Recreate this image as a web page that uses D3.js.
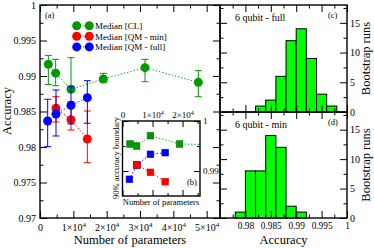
<!DOCTYPE html>
<html>
<head>
<meta charset="utf-8">
<script src="https://cdn.jsdelivr.net/npm/d3@7"></script>
<style>
  body { margin: 0; background: #fff; }
  svg { font-family: "Liberation Serif", "Times New Roman", serif; }
</style>
</head>
<body>
<svg width="374" height="248"></svg>
<script>
// ---- panel (a): median accuracy vs number of parameters ----
var clParams = [2500, 4700, 9300, 19000, 31500, 47500];
var clMedian = [0.99165, 0.9904, 0.98813, 0.98958, 0.99117, 0.98911];
var clLow    = [0.98880, 0.98863, 0.98779, 0.98911, 0.98920, 0.98708];
var clHigh   = [0.99290, 0.99235, 0.99258, 0.99038, 0.99235, 0.99075];

var qmMinParams = [4800, 9300, 14200];
var qmMinMedian = [0.98545, 0.98385, 0.98113];
var qmMinLow    = [0.98352, 0.98239, 0.97779];
var qmMinHigh   = [0.98708, 0.98638, 0.98507];

var qmFullParams = [2300, 4800, 9300, 14200];
var qmFullMedian = [0.98366, 0.98465, 0.98587, 0.98695];
var qmFullLow    = [0.98004, 0.98155, 0.98324, 0.98334];
var qmFullHigh   = [0.98672, 0.98803, 0.98849, 0.98934];

// ---- inset (b): 90% accuracy boundary ----
var clBoundary     = [0.9954, 0.9950, 0.99706, 0.9954, 0.99526, 0.9950];
var qmMinBoundary  = [0.9912, 0.98974, 0.98786];
var qmFullBoundary = [0.98834, 0.9912, 0.99334, 0.99366];

// ---- panels (c), (d): bootstrap histograms ----
var binWidth = 0.002;
var fullBins   = [0.982, 0.984, 0.986, 0.988, 0.990, 0.992, 0.994, 0.996];
var fullCounts = [1, 2, 6, 12, 14, 9, 3, 1];
var minBins    = [0.978, 0.980, 0.982, 0.984, 0.986, 0.988, 0.990];
var minCounts  = [1, 8, 8, 14, 12, 2, 1];

// tick values
var accTicks      = [0.97, 0.975, 0.98, 0.985, 0.99, 0.995, 1];
var accMinor      = [0.9725, 0.9775, 0.9825, 0.9875, 0.9925, 0.9975];
var paramTicks    = [0, 10000, 20000, 30000, 40000, 50000];
var paramMinor    = [5000, 15000, 25000, 35000, 45000];
var insetPTicks   = [0, 10000, 20000];
var insetPMinor   = [5000, 15000, 25000];
var insetYTicks   = [0.99, 1];
var insetYMinor   = [0.995];
var histXTicks    = [0.98, 0.985, 0.99, 0.995, 1];
var histXMinor    = [0.9775, 0.9825, 0.9875, 0.9925, 0.9975];
var histYTicks    = [0, 5, 10, 15];
var histYMinor    = [2.5, 7.5, 12.5, 17.5];

var green = "#009a00", red = "#ff0000", blue = "#0000ff";

var svg = d3.select("svg");

var xA = d3.scaleLinear().domain([0, 54000]).range([40, 220]);
var yA = d3.scaleLinear().domain([0.97, 1]).range([218, 5]);

var xI = d3.scaleLinear().domain([0, 25800]).range([122.5, 200]);
var yI = d3.scaleLinear().domain([0.985, 1]).range([196, 121]);

var xH = d3.scaleLinear().domain([0.975, 1]).range([220, 347]);
var yC = d3.scaleLinear().domain([0, 18]).range([112, 5]);
var yD = d3.scaleLinear().domain([0, 18]).range([218, 112]);

// draws an inward-ticked axis, returns the major group
function addAxis(orient, scale, pos, major, minor, fmt, opts) {
  opts = opts || {};
  let mk = {bottom: d3.axisBottom, top: d3.axisTop, left: d3.axisLeft, right: d3.axisRight}[orient];
  let horiz = (orient == "bottom" || orient == "top");
  let tr = horiz ? "translate(0," + pos + ")" : "translate(" + pos + ",0)";
  let big = opts.big || 7, small = opts.small || 3.5;

  let gm = svg.append("g").attr("transform", tr)
    .call(mk(scale).tickValues(minor).tickSize(-small).tickFormat(""));
  gm.select(".domain").remove();

  let g = svg.append("g").attr("transform", tr)
    .call(mk(scale).tickValues(major).tickSize(-big)
      .tickPadding(opts.pad || 4).tickFormat(fmt || ""));
  g.select(".domain").remove();
  g.attr("font-family", null).attr("font-size", opts.fs || 10);
  svg.selectAll("g.tick line").attr("stroke-width", 1);
  return g;
}

// "n×10^4" labels
function sciLabels(g, sup) {
  g.selectAll("text").each(function(d) {
    if (d === 0) return;
    let t = d3.select(this).text("");
    t.append("tspan").text((d / 10000) + "\u00d710");
    t.append("tspan").attr("font-size", sup).attr("dy", "-0.5em").text("4");
  });
}

function frame(x0, y0, x1, y1) {
  svg.append("rect")
    .attr("x", x0).attr("y", y0)
    .attr("width", x1 - x0).attr("height", y1 - y0)
    .attr("fill", "none").attr("stroke", "black").attr("stroke-width", 1.4);
}

// ================= panel (a) =================
addAxis("left", yA, 40, accTicks, accMinor, String, {pad: 4});
addAxis("right", yA, 220, accTicks, accMinor, "");
addAxis("top", xA, 5, paramTicks, paramMinor, "");
var xAxisA = addAxis("bottom", xA, 218, paramTicks, paramMinor, String, {pad: 5.5});
sciLabels(xAxisA, 7);

function series(params, med, lo, hi, color) {
  let g = svg.append("g");
  g.selectAll("line.err").data(params).enter().append("line")
    .attr("x1", (d) => xA(d)).attr("x2", (d) => xA(d))
    .attr("y1", (d, i) => yA(lo[i])).attr("y2", (d, i) => yA(hi[i]))
    .attr("stroke", color).attr("stroke-width", 1);
  [lo, hi].forEach(function(arr) {
    g.selectAll(null).data(params).enter().append("line")
      .attr("x1", (d) => xA(d) - 3.5).attr("x2", (d) => xA(d) + 3.5)
      .attr("y1", (d, i) => yA(arr[i])).attr("y2", (d, i) => yA(arr[i]))
      .attr("stroke", color).attr("stroke-width", 1);
  });
  g.append("path")
    .attr("d", d3.line().x((d) => xA(d)).y((d, i) => yA(med[i]))(params))
    .attr("fill", "none").attr("stroke", color).attr("stroke-width", 1)
    .attr("stroke-dasharray", "1.3,2");
  g.selectAll("circle").data(params).enter().append("circle")
    .attr("cx", (d) => xA(d)).attr("cy", (d, i) => yA(med[i]))
    .attr("r", 4.5).attr("fill", color);
}

series(clParams, clMedian, clLow, clHigh, green);
series(qmMinParams, qmMinMedian, qmMinLow, qmMinHigh, red);
series(qmFullParams, qmFullMedian, qmFullLow, qmFullHigh, blue);

frame(40, 5, 220, 218);

svg.append("text").attr("x", 45).attr("y", 18).attr("font-size", 8.5).text("(a)");

// legend
var legendItems = [["Median [CL]", green], ["Median [QM - min]", red], ["Median [QM - full]", blue]];
legendItems.forEach(function(it, i) {
  let y = 25.7 + i * 10.6;
  svg.append("line").attr("x1", 76.7).attr("x2", 89.3).attr("y1", y).attr("y2", y)
    .attr("stroke", it[1]).attr("stroke-dasharray", "1.3,2");
  [76.7, 89.3].forEach(function(cx) {
    svg.append("circle").attr("cx", cx).attr("cy", y).attr("r", 4.5).attr("fill", it[1]);
  });
  svg.append("text").attr("x", 95).attr("y", y + 3.3).attr("font-size", 9).text(it[0]);
});

svg.append("text")
  .attr("transform", "translate(11,111) rotate(-90)")
  .attr("text-anchor", "middle").attr("font-size", 12.5).text("Accuracy");

svg.append("text")
  .attr("x", 130).attr("y", 244)
  .attr("text-anchor", "middle").attr("font-size", 12.5).text("Number of parameters");

// ================= inset (b) =================
svg.append("rect").attr("x", 122.5).attr("y", 121).attr("width", 77.5).attr("height", 75)
  .attr("fill", "white");

svg.append("clipPath").attr("id", "insetClip").append("rect")
  .attr("x", 122.5).attr("y", 121).attr("width", 77.5).attr("height", 75);

var insetTop = addAxis("top", xI, 121, insetPTicks, insetPMinor, String, {pad: 3, fs: 9, big: 6, small: 3});
sciLabels(insetTop, 6);
addAxis("bottom", xI, 196, insetPTicks, insetPMinor, "", {big: 6, small: 3});
addAxis("left", yI, 122.5, insetYTicks, insetYMinor, "", {big: 6, small: 3});
addAxis("right", yI, 200, insetYTicks, insetYMinor, String, {pad: 3, fs: 9, big: 6, small: 3});

var insetG = svg.append("g").attr("clip-path", "url(#insetClip)");
function insetSeries(params, vals, color) {
  insetG.append("path")
    .attr("d", d3.line().x((d) => xI(d)).y((d, i) => yI(vals[i]))(params))
    .attr("fill", "none").attr("stroke", color).attr("stroke-width", 1)
    .attr("stroke-dasharray", "1.3,2");
  insetG.selectAll(null).data(params).enter().append("rect")
    .attr("x", (d) => xI(d) - 3.3).attr("y", (d, i) => yI(vals[i]) - 3.3)
    .attr("width", 6.6).attr("height", 6.6)
    .attr("fill", color).attr("stroke", d3.color(color).darker(0.6)).attr("stroke-width", 0.6);
}
insetSeries(clParams, clBoundary, green);
insetSeries(qmFullParams, qmFullBoundary, blue);
insetSeries(qmMinParams, qmMinBoundary, red);

frame(122.5, 121, 200, 196);

svg.append("text").attr("x", 187).attr("y", 185).attr("font-size", 8.5).text("(b)");
svg.append("text")
  .attr("x", 161).attr("y", 205)
  .attr("text-anchor", "middle").attr("font-size", 8.5).text("Number of parameters");
svg.append("text")
  .attr("transform", "translate(119,158) rotate(-90)")
  .attr("text-anchor", "middle").attr("font-size", 8.5).text("90% accuracy boundary");

// ================= panels (c) and (d) =================
function histPanel(yS, bins, counts, top, bottom, title, tag, showX) {
  svg.append("g").selectAll("rect").data(bins).enter().append("rect")
    .attr("x", (d) => xH(d))
    .attr("width", (d) => xH(d + binWidth) - xH(d))
    .attr("y", (d, i) => yS(counts[i]))
    .attr("height", (d, i) => yS(0) - yS(counts[i]))
    .attr("fill", "#00ff00").attr("stroke", "black").attr("stroke-width", 1);

  addAxis("left", yS, 220, histYTicks, histYMinor, "");
  addAxis("right", yS, 347, histYTicks, histYMinor, String, {pad: 3});
  addAxis("top", xH, top, histXTicks, histXMinor, "");
  addAxis("bottom", xH, bottom, histXTicks, histXMinor, showX ? String : "", {pad: 4.5, fs: 9.3});
  frame(220, top, 347, bottom);

  svg.append("text").attr("x", 235).attr("y", top + 16).attr("font-size", 10).text(title);
  svg.append("text").attr("x", 328).attr("y", top + 13).attr("font-size", 8.5).text(tag);
  svg.append("text")
    .attr("transform", "translate(374," + ((top + bottom) / 2) + ") rotate(-90)")
    .attr("text-anchor", "middle").attr("dy", "-0.3em").attr("font-size", 12.5)
    .text("Bootstrap runs");
}

histPanel(yC, fullBins, fullCounts, 5, 112, "6 qubit - full", "(c)", false);
histPanel(yD, minBins, minCounts, 112, 218, "6 qubit - min", "(d)", true);

svg.append("text")
  .attr("x", 283.5).attr("y", 244)
  .attr("text-anchor", "middle").attr("font-size", 12.5).text("Accuracy");
</script>
</body>
</html>
